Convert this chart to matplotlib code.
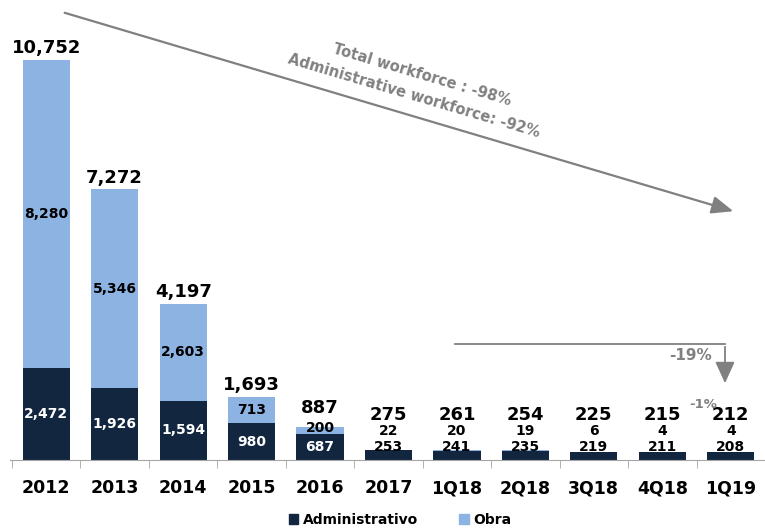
import numpy as np
import matplotlib.pyplot as plt
from matplotlib.patches import Patch, FancyArrowPatch

periods = ["2012", "2013", "2014", "2015", "2016", "2017",
           "1Q18", "2Q18", "3Q18", "4Q18", "1Q19"]
administrativo = [2472, 1926, 1594, 980, 687, 253, 241, 235, 219, 211, 208]
obra = [8280, 5346, 2603, 713, 200, 22, 20, 19, 6, 4, 4]
totals = [10752, 7272, 4197, 1693, 887, 275, 261, 254, 225, 215, 212]

dark = "#12263f"
light = "#8db3e2"
grey = "#808080"

fig = plt.figure(figsize=(7.65, 5.28), dpi=100)
ax = fig.add_axes([0.013, 0.129, 0.987, 0.871])

x = np.arange(len(periods))
w = 0.69
ax.bar(x, administrativo, w, color=dark, zorder=2)
ax.bar(x, obra, w, bottom=administrativo, color=light, zorder=2)

ax.set_xlim(-0.53, 10.33)
ax.set_ylim(0, 12365)

for i in range(len(periods)):
    a, o, t = administrativo[i], obra[i], totals[i]
    if t >= 1000:
        ax.text(i, a / 2, f"{a:,}", ha="center", va="center", color="white",
                fontsize=10, fontweight="bold")
        ax.text(i, a + o / 2, f"{o:,}", ha="center", va="center", color="black",
                fontsize=10, fontweight="bold")
        ax.annotate(f"{t:,}", (i, t), xytext=(0, 2), textcoords="offset points",
                    ha="center", va="bottom", fontsize=13, fontweight="bold")
    else:
        # small bars: stack the labels above the baseline
        offs = (9.5, 23, 37) if t > 500 else (9.5, 21, 32.5)
        ax.annotate(f"{a:,}", (i, 0), xytext=(0, offs[0]), textcoords="offset points",
                    ha="center", va="center", fontsize=10, fontweight="bold",
                    color="white" if a > 500 else "black")
        ax.annotate(f"{o:,}", (i, 0), xytext=(0, offs[1]), textcoords="offset points",
                    ha="center", va="center", fontsize=10, fontweight="bold")
        ax.annotate(f"{t:,}", (i, 0), xytext=(0, offs[2]), textcoords="offset points",
                    ha="center", va="center", fontsize=13, fontweight="bold")

for s in ["top", "right", "left"]:
    ax.spines[s].set_visible(False)
ax.spines["bottom"].set_color("#a6a6a6")
ax.set_yticks([])
ax.set_xticks(x)
ax.set_xticklabels(periods, fontsize=12.5, fontweight="bold")
ax.tick_params(axis="x", which="major", length=0, pad=14)
ax.set_xticks(np.arange(-0.5, 10.6, 1), minor=True)
ax.tick_params(axis="x", which="minor", length=6, color="#a6a6a6")

# long-term trend arrow
fig.patches.append(FancyArrowPatch(
    (62 / 765, 1 - 12 / 528), (736 / 765, 1 - 212 / 528),
    transform=fig.transFigure, arrowstyle="-|>,head_length=1.1,head_width=0.45",
    mutation_scale=12, color=grey, lw=1.6))
fig.text(422 / 765, 1 - 75 / 528, "Total workforce : -98%", rotation=-16.5,
         ha="center", va="center", color=grey, fontsize=10.5, fontweight="bold",
         rotation_mode="anchor")
fig.text(414 / 765, 1 - 96 / 528, "Administrative workforce: -92%", rotation=-16.5,
         ha="center", va="center", color=grey, fontsize=10.5, fontweight="bold",
         rotation_mode="anchor")

# recent trend arrow
fig.lines.append(plt.Line2D([455 / 765, 725 / 765], [1 - 344 / 528, 1 - 344 / 528],
                            transform=fig.transFigure, color=grey, lw=1.3))
fig.patches.append(FancyArrowPatch(
    (725 / 765, 1 - 344 / 528), (725 / 765, 1 - 386 / 528),
    transform=fig.transFigure, arrowstyle="-|>,head_length=1.1,head_width=0.5",
    mutation_scale=12, color=grey, lw=1.3))
fig.text(690 / 765, 1 - 356 / 528, "-19%", ha="center", va="center",
         color=grey, fontsize=11, fontweight="bold")
fig.text(703 / 765, 1 - 404 / 528, "-1%", ha="center", va="center",
         color=grey, fontsize=9.5, fontweight="bold")

handles = [Patch(color=dark), Patch(color=light)]
fig.legend(handles, ["Administrativo", "Obra"], loc="center",
           bbox_to_anchor=(400 / 765, 1 - 520 / 528), ncol=2, frameon=False,
           prop={"weight": "bold", "size": 10}, handlelength=0.7,
           handleheight=0.7, handletextpad=0.3, columnspacing=3.0)

fig.savefig("out.png", dpi=100)
